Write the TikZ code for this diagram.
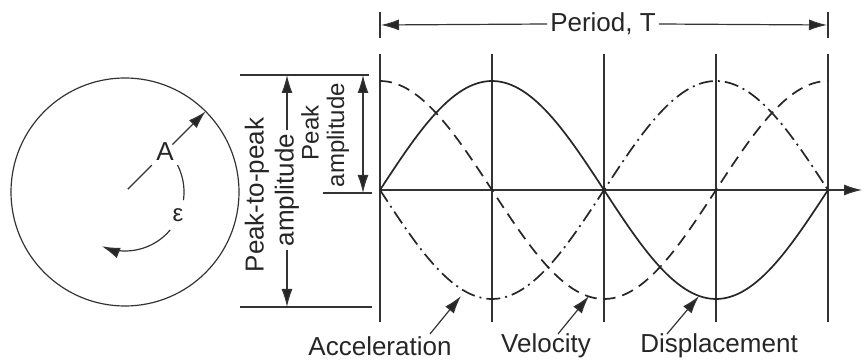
\documentclass[tikz,border=0pt]{standalone}
\usepackage{fontspec}
\setmainfont{Liberation Sans}
\usetikzlibrary{arrows.meta}
\begin{document}
\begin{tikzpicture}[x=1pt,y=-1pt,
  ink/.style={draw=black!85, line width=1.7pt},
  fine/.style={draw=black!80, line width=1.2pt},
  tip/.style={-{Latex[length=18pt,width=11pt,fill=black!85]}},
  twotips/.style={{Latex[length=18pt,width=11pt,fill=black!85]}-{Latex[length=18pt,width=11pt,fill=black!85]}},
  lbl/.style={font=\fontsize{26}{29}\selectfont, text=black!85, inner sep=1pt},
  slbl/.style={font=\fontsize{24}{27}\selectfont, text=black!85, inner sep=1pt},
  dsh/.style={dash pattern=on 12pt off 7pt},
  dshdot/.style={dash pattern=on 14pt off 5pt on 2pt off 5pt}]
\useasboundingbox (0,0) rectangle (868,363);
% ---- circle ----
\coordinate (c) at (125,192);
\draw[fine] (c) circle[radius=114];
\coordinate (r0) at ({125+4*cos(45)},{192-4*sin(45)});
\coordinate (r1) at ({125+38*cos(45)},{192-38*sin(45)});
\coordinate (r2) at ({125+67*cos(45)},{192-67*sin(45)});
\coordinate (r3) at ({125+114*cos(45)},{192-114*sin(45)});
\draw[fine] (r0) -- (r1);
\node[lbl] (A) at (165,152) {A};
\draw[fine,tip] (r2) -- (r3);
\draw[fine] plot[variable=\t,domain=27:-8,samples=20] ({125+59*cos(\t)},{192-59*sin(\t)});
\draw[fine,tip] plot[variable=\t,domain=-40:-113,samples=30] ({125+59*cos(\t)},{192-59*sin(\t)});
\node[slbl] (eps) at (178,215) {ε};
% ---- amplitude dimensions ----
\coordinate (t1) at (240,75); \coordinate (t2) at (369,75);
\coordinate (b1) at (240,307); \coordinate (b2) at (372,307);
\draw[fine] (t1) -- (t2);
\draw[fine] (b1) -- (b2);
\coordinate (p1) at (287,75); \coordinate (p2) at (287,307);
\node[lbl,rotate=90,fill=white,inner xsep=3pt] (amp1) at (287,190) {amplitude};
\draw[fine,tip] (amp1.east) -- (p1);
\draw[fine,tip] (amp1.west) -- (p2);
\node[lbl,rotate=90] (ptp) at (257,195) {Peak-to-peak};
\coordinate (q1) at (363,75); \coordinate (q2) at (363,193);
\draw[fine] (323,193) -- (372,193);
\draw[fine,twotips] (q1) -- (q2);
\node[slbl,rotate=90] (pk) at (310,133) {Peak};
\node[slbl,rotate=90] (amp2) at (338,135) {amplitude};
% ---- grid ----
\foreach \xx in {380,492,604,716,828}{
  \draw[fine] (\xx,54) -- (\xx,322);
}
\coordinate (ax0) at (380,190); \coordinate (ax1) at (862,190);
\draw[fine,tip] (ax0) -- (ax1);
% ---- period ----
\draw[fine] (380,12) -- (380,38);
\draw[fine] (828,12) -- (828,38);
\node[lbl,fill=white,inner xsep=3pt] (per) at (603,24) {Period, T};
\draw[fine,tip] (per.west) -- (381,25);
\draw[fine,tip] (per.east) -- (827,25);
% ---- curves ----
\draw[ink] plot[variable=\t,domain=0:360,samples=120] ({380+\t*1.244444},{190-109*sin(\t)});
\draw[ink,dsh] plot[variable=\t,domain=0:360,samples=120] ({380+\t*1.244444},{190-109*cos(\t)});
\draw[ink,dshdot] plot[variable=\t,domain=0:360,samples=120] ({380+\t*1.244444},{190+109*sin(\t)});
% ---- labels ----
\node[lbl] (acc) at (380,346) {Acceleration};
\node[lbl] (vel) at (546,346) {Velocity};
\node[lbl] (dis) at (719,346) {Displacement};
\coordinate (ae) at (461,296); \coordinate (ve) at (589,296); \coordinate (de) at (699,296);
\draw[fine,tip] (430,334) -- (ae);
\draw[fine,tip] (558,334) -- (ve);
\draw[fine,tip] (667,334) -- (de);
\end{tikzpicture}
\end{document}
